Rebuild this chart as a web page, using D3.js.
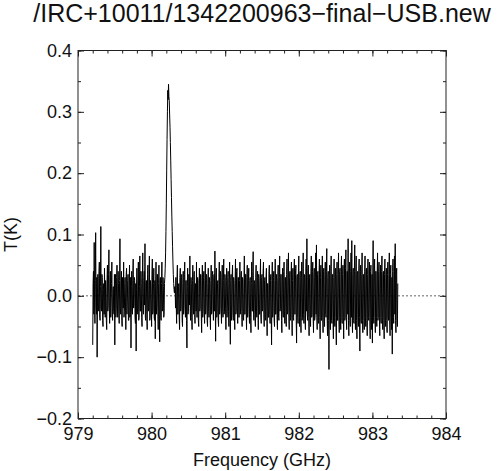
<!DOCTYPE html>
<html>
<head>
<meta charset="utf-8">
<script src="https://cdn.jsdelivr.net/npm/d3@7"></script>
<style>
  html, body { margin: 0; padding: 0; background: #fff; }
  svg { display: block; font-family: "Liberation Sans", Arial, Helvetica, sans-serif; }
</style>
</head>
<body>
<svg id="chart" width="500" height="471"></svg>
<script>
// ---- data ----
const titleText = "/IRC+10011/1342200963\u2212final\u2212USB.new";
const xLabel = "Frequency (GHz)";
const yLabel = "T(K)";
const xDomain = [979, 984];
const yDomain = [-0.2, 0.4];
const xMajorTicks = [979, 980, 981, 982, 983, 984];
const yMajorTicks = [-0.2, -0.1, 0.0, 0.1, 0.2, 0.3, 0.4];
const freqStartGHz = 979.200;     // first channel
const channelWidthGHz = 0.005;    // channel spacing

// antenna temperature, mK, channels 0..191 (979.200 - 980.155 GHz)
const leftNoiseMilliK = [
  -80, 20, 40, -30, 87, -10, -45, 25, 103, -15, -30, 30, -100, 5, 35, -25, -20, 40, 55, -35,
  -40, 15, 113, -20, -25, 35, 30, -40, -50, 10, 20, -30, 45, -5, -35, 25, 10, -40, -55, 30,
  50, -25, -15, 35, 75, -20, -45, 15, 40, -35, -10, 20, 55, -30, -40, 10, 15, -25, -30, 35,
  -80, 20, 35, -35, -20, 30, 50, -15, -35, 40, 20, -30, -45, 25, 93, -20, -30, 15, 40, -40,
  -50, 30, 15, -20, 55, -35, -25, 20, 30, -10, -55, 35, 45, -30, -10, 25, 35, -40, -40, 20,
  50, -35, -20, 30, -85, 15, 40, -25, -30, 35, 60, -20, -15, 30, 25, -35, -45, 20, -90, 10,
  45, -30, -20, 25, 55, -40, -35, 15, 65, -25, -25, 40, 20, -35, -50, 30, 70, -20, -30, 25,
  40, -15, 85, -35, -40, 20, 25, -30, -55, 35, 50, -25, -20, 30, 65, -40, -35, 25, 15, -20,
  -50, 35, 60, -30, -25, 20, 45, -35, -40, 25, -70, 15, 55, -30, -15, 35, 35, -25, -55, 20,
  50, -30, -75, 25, 30, -35, -40, 20, 55, -25, -20, 30
];
// channels 192..223 (980.160 - 980.315 GHz): emission line
const lineProfileMilliK = [
  15, -35, -30, 20, 30, 45, 70, 105, 150, 205,
  255, 300, 335, 320, 345, 325, 318, 295, 275, 250,
  220, 190, 160, 130, 105, 80, 55, 35, 20, 10,
  5, 15
];
// channels 224..829 (980.320 - 983.345 GHz)
const rightNoiseMilliK = [
  10, -20, 30, -15, -45, 25, 50, -30, -30, 15, 20, -35, -55, 30, 45, -25, -20, 30, 35, -40,
  -50, 20, 40, -30, -15, 35, 55, -20, -35, 25, 25, -40, -85, 15, 45, -30, -25, 35, 30, -15,
  65, -25, -40, 30, 20, -35, -55, 25, 50, -20, -30, 35, 40, -30, -45, 20, 15, -25, 55, -35,
  -35, 30, 25, -40, -50, 20, 45, -25, -20, 35, 35, -30, -60, 25, 50, -35, -25, 30, 40, -20,
  -45, 25, 55, -30, -15, 35, 30, -40, -50, 20, 45, -25, -35, 30, 20, -35, -55, 25, 50, -30,
  -25, 35, 40, -20, -40, 30, 35, -25, 73, -10, -74, 25, 45, -35, -30, 20, 25, -40, -50, 30,
  55, -30, -20, 40, 35, -25, -45, 30, 50, -20, -35, 25, 60, -30, -25, 35, 30, -20, -55, 25,
  45, -35, -15, 30, 40, -25, -50, 20, 55, -30, -79, 25, 35, -40, -30, 35, 50, -20, -40, 30,
  20, -35, -55, 25, 60, -30, -25, 40, 45, -20, -45, 30, 30, -35, -35, 25, 55, -30, -20, 35,
  40, -25, -50, 30, 25, -35, -40, 20, 65, -30, -30, 35, 35, -25, -55, 30, 50, -35, -15, 25,
  45, -30, -45, 25, 30, -35, -60, 20, 55, -25, -25, 40, 72, -30, -40, 25, 20, -35, -50, 30,
  50, -25, -35, 30, 40, -20, -55, 35, 25, -30, -30, 25, 60, -35, -45, 30, 35, -25, -20, 40,
  55, -30, -50, 25, 30, -35, -40, 30, 45, -25, -65, 20, 20, -35, -35, 40, 50, -30, -45, 25,
  35, -30, -80, 25, 55, -35, -25, 30, 40, -40, -50, 25, 60, -30, -30, 35, 25, -40, -55, 30,
  50, -35, -40, 30, 65, -25, -20, 35, 35, -40, -60, 25, 45, -30, -35, 40, 55, -25, -45, 30,
  30, -40, -50, 35, 60, -30, -25, 40, 70, -35, -55, 30, 40, -40, -35, 35, 55, -30, -65, 25,
  45, -35, -40, 40, 60, -30, -30, 35, 50, -40, -77, 30, 35, -35, -45, 40, 65, -30, -50, 35,
  40, -35, -60, 30, 55, -40, -35, 40, 70, -30, -45, 35, 30, -40, -55, 35, 60, -25, 93, -30,
  -40, 35, 50, -35, -65, 30, 35, -40, -50, 40, 65, -35, -30, 40, 55, -35, -60, 30, 45, -40,
  -35, 40, 70, -30, 83, -35, -55, 35, 40, -40, -45, 35, 60, -35, -70, 30, 50, -40, -40, 35,
  65, -35, -60, 40, 45, -40, -50, 35, 55, -30, -35, 40, 77, -35, -65, 30, 40, -40, -120, 35,
  50, -35, -55, 40, 65, -40, -45, 35, 35, -40, -70, 30, 60, -35, -50, 40, 45, -40, -80, 35,
  55, -40, -40, 35, 70, -35, -60, 40, 45, -35, -55, 40, 65, -40, -45, 35, 50, -35, -70, 40,
  60, -40, -35, 45, 75, -35, -55, 40, 40, -30, 93, -40, -65, 35, 55, -40, -50, 40, 70, -35,
  90, -40, -60, 35, 45, -40, -45, 40, 83, -35, -55, 40, 65, -40, -70, 35, 40, -35, -50, 40,
  60, -35, -90, 40, 50, -40, -45, 35, 70, -40, -60, 35, 35, -40, -55, 40, 65, -35, -50, 40,
  45, -40, -65, 35, 60, -35, -40, 40, 55, -35, -70, 40, 50, -40, -55, 35, -77, 30, 90, -35,
  -45, 40, 60, -35, -60, 40, 40, -35, -50, 35, 70, -40, -35, 40, 55, -35, -65, 35, 50, -40,
  -45, 40, 65, -35, -55, 35, 40, -40, -70, 35, 60, -40, -50, 35, 45, -40, -60, 35, 55, -35,
  -40, 35, 70, -40, -65, 35, 50, -35, -55, 30, -95, 40, 60, -35, -45, 40, 65, -30, 85, -40,
  -60, 35, 45, -40, -50, 20
];

// ---- build table ----
const tempMilliK = leftNoiseMilliK.concat(lineProfileMilliK, rightNoiseMilliK);
const spectrum = tempMilliK.map((v, i) => ({
  freq: freqStartGHz + i * channelWidthGHz,
  T: v / 1000
}));

// ---- layout ----
const svg = d3.select("#chart");
const plot = { left: 78, right: 446, top: 50.5, bottom: 418.5 };
const x = d3.scaleLinear().domain(xDomain).range([plot.left, plot.right]);
const y = d3.scaleLinear().domain(yDomain).range([plot.bottom, plot.top]);

const fontSize = 18;
const fmtY = d3.format(".1f");
const fmtX = d3.format("d");

// zero reference line (dotted)
svg.append("line")
  .attr("x1", x(xDomain[0])).attr("x2", x(xDomain[1]))
  .attr("y1", y(0)).attr("y2", y(0))
  .attr("stroke", "#666").attr("stroke-width", 1)
  .attr("stroke-dasharray", "2,2");

// spectrum
const line = d3.line().x(d => x(d.freq)).y(d => y(d.T));
svg.append("path")
  .datum(spectrum)
  .attr("d", line)
  .attr("fill", "none")
  .attr("stroke", "#000")
  .attr("stroke-width", 1)
  .attr("stroke-linejoin", "miter");

// minor ticks
const xMinor = d3.range(xDomain[0], xDomain[1] + 1e-9, 0.2).map(v => +v.toFixed(2));
const yMinor = d3.range(yDomain[0], yDomain[1] + 1e-9, 0.05).map(v => +v.toFixed(3));

function styleAxis(g) {
  g.select(".domain").remove();
  g.selectAll(".tick line").attr("stroke", "#222").attr("stroke-width", 1);
  g.selectAll("text").attr("fill", "#111").attr("font-size", fontSize)
    .attr("font-family", "Liberation Sans, Arial, sans-serif");
}

// bottom axis
svg.append("g").attr("transform", `translate(0,${plot.bottom})`)
  .call(d3.axisBottom(x).tickValues(xMinor).tickSize(-3).tickFormat(""))
  .call(styleAxis);
svg.append("g").attr("transform", `translate(0,${plot.bottom})`)
  .call(d3.axisBottom(x).tickValues(xMajorTicks).tickSize(-6).tickPadding(8.5).tickFormat(fmtX))
  .call(styleAxis);
// top axis
svg.append("g").attr("transform", `translate(0,${plot.top})`)
  .call(d3.axisTop(x).tickValues(xMinor).tickSize(-3).tickFormat(""))
  .call(styleAxis);
svg.append("g").attr("transform", `translate(0,${plot.top})`)
  .call(d3.axisTop(x).tickValues(xMajorTicks).tickSize(-6).tickFormat(""))
  .call(styleAxis);
// left axis
svg.append("g").attr("transform", `translate(${plot.left},0)`)
  .call(d3.axisLeft(y).tickValues(yMinor).tickSize(-3).tickFormat(""))
  .call(styleAxis);
svg.append("g").attr("transform", `translate(${plot.left},0)`)
  .call(d3.axisLeft(y).tickValues(yMajorTicks).tickSize(-6).tickPadding(6).tickFormat(fmtY))
  .call(styleAxis);
// right axis
svg.append("g").attr("transform", `translate(${plot.right},0)`)
  .call(d3.axisRight(y).tickValues(yMinor).tickSize(-3).tickFormat(""))
  .call(styleAxis);
svg.append("g").attr("transform", `translate(${plot.right},0)`)
  .call(d3.axisRight(y).tickValues(yMajorTicks).tickSize(-6).tickFormat(""))
  .call(styleAxis);

// frame
svg.append("rect")
  .attr("x", plot.left).attr("y", plot.top)
  .attr("width", plot.right - plot.left).attr("height", plot.bottom - plot.top)
  .attr("fill", "none").attr("stroke", "#222").attr("stroke-width", 1);

// title
svg.append("text")
  .attr("x", (plot.left + plot.right) / 2).attr("y", 22)
  .attr("text-anchor", "middle")
  .attr("font-size", 25).attr("fill", "#111")
  .text(titleText);

// axis labels
svg.append("text")
  .attr("x", (plot.left + plot.right) / 2).attr("y", 466)
  .attr("text-anchor", "middle")
  .attr("font-size", fontSize).attr("fill", "#111")
  .text(xLabel);
svg.append("text")
  .attr("transform", `translate(17,${(plot.top + plot.bottom) / 2}) rotate(-90)`)
  .attr("text-anchor", "middle")
  .attr("font-size", fontSize).attr("fill", "#111")
  .text(yLabel);
</script>
</body>
</html>
